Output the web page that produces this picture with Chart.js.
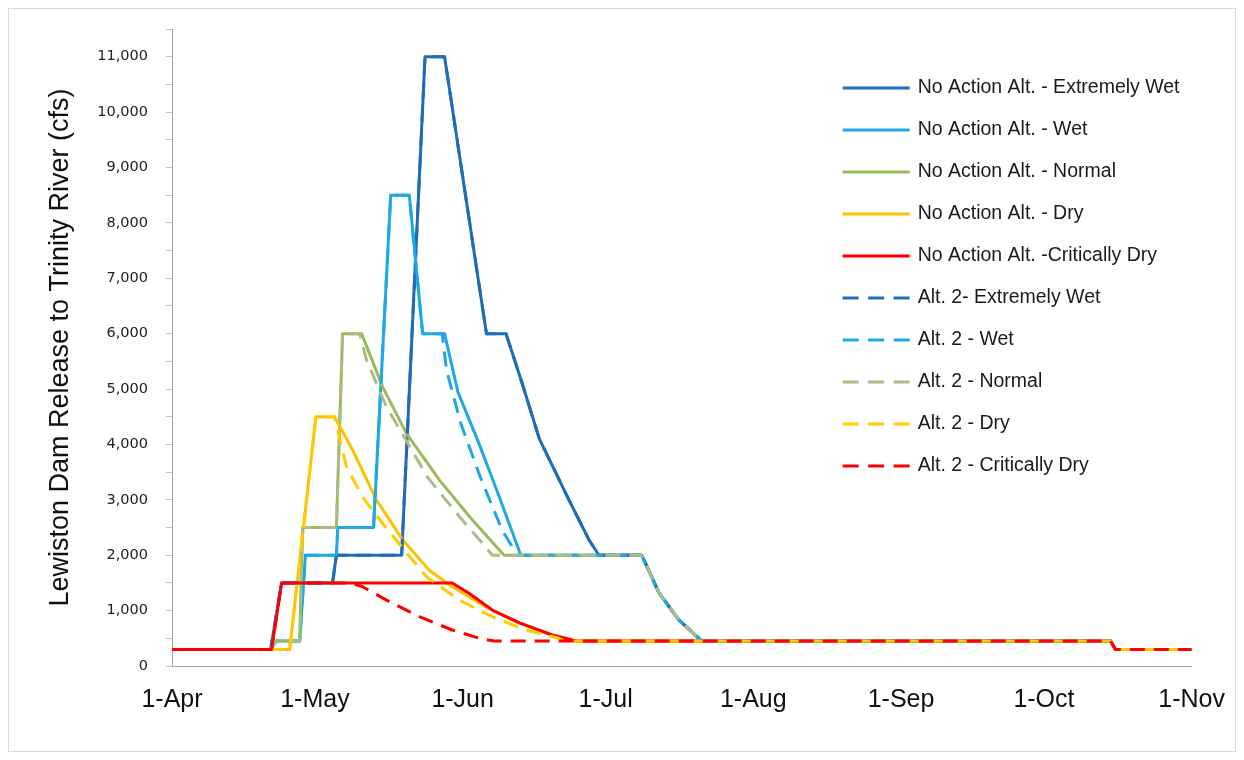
<!DOCTYPE html>
<html>
<head>
<meta charset="utf-8">
<title>Lewiston Dam Release to Trinity River</title>
<script src="https://cdn.jsdelivr.net/npm/chart.js@4.4.1/dist/chart.umd.min.js"></script>
<style>
  html, body { margin: 0; padding: 0; background: #fff; }
  canvas { display: block; }
</style>
</head>
<body>
<canvas id="flows" width="1244" height="760"></canvas>
<script>
"use strict"
// x = days after 1 April, y = release (cfs)
const monthDays = [0, 30, 61, 91, 122, 153, 183, 214];
const monthLabels = ['1-Apr', '1-May', '1-Jun', '1-Jul', '1-Aug', '1-Sep', '1-Oct', '1-Nov'];
const yTitle = 'Lewiston Dam Release to Trinity River (cfs)';

// No Action Alternative
const naExtWet = [[0,300],[20.7,300],[23,1500],[33.7,1500],[34.5,2000],[48.2,2000],[53.1,11000],[57.2,11000],[66,6000],[70.1,6000],[73.5,5100],[77.1,4100],[83.3,3000],[87.5,2280],[89.6,2000],[98.6,2000],[102.2,1320],[106.4,830],[111.2,450],[197,450],[198,300],[214,300]];
const naWet = [[0,300],[20.5,300],[22,450],[26.8,450],[28,2000],[34.5,2000],[34.8,2500],[42.3,2500],[45.9,8500],[49.8,8500],[52.6,6000],[57.2,6000],[60,4950],[64.5,4000],[68.7,3050],[73.2,2000],[98.6,2000],[102.2,1320],[106.4,830],[111.2,450],[197,450],[198,300],[214,300]];
const naNormal = [[0,300],[20.5,300],[22,450],[26.8,450],[27.4,2500],[34.5,2500],[35.8,6000],[39.8,6000],[44.2,5040],[49.2,4200],[56.1,3360],[63,2640],[69.7,2000],[98.6,2000],[102.2,1320],[106.4,830],[111.2,450],[197,450],[198,300],[214,300]];
const naDry = [[0,300],[24.7,300],[30.2,4500],[34.1,4500],[37.9,3900],[42.9,3000],[48.4,2280],[54,1730],[58.8,1430],[65.8,1070],[72.9,780],[79.8,560],[84.8,450],[197,450],[198,300],[214,300]];
const naCritDry = [[0,300],[20.9,300],[23,1500],[58.8,1500],[62.4,1310],[67.2,1010],[72.9,780],[79.8,560],[84.8,450],[197,450],[198,300],[214,300]];

// Alternative 2
const alt2ExtWet = [[0,300],[20.7,300],[23,1500],[33.7,1500],[34.5,2000],[48.2,2000],[53.1,11000],[57.2,11000],[66,6000],[70.1,6000],[73.5,5100],[77.1,4100],[83.3,3000],[87.5,2280],[89.6,2000],[98.6,2000],[102.2,1320],[106.4,830],[111.2,450],[197,450],[198,300],[214,300]];
const alt2Wet = [[0,300],[20.5,300],[22,450],[26.8,450],[28,2000],[34.5,2000],[34.8,2500],[42.3,2500],[45.9,8500],[49.8,8500],[52.6,6000],[56.7,6000],[57.6,5350],[60.6,4380],[64.8,3390],[69.3,2450],[72.5,2000],[98.6,2000],[102.2,1320],[106.4,830],[111.2,450],[197,450],[198,300],[214,300]];
const alt2Normal = [[0,300],[20.5,300],[22,450],[26.8,450],[27.4,2500],[34.5,2500],[35.8,6000],[39.4,6000],[40.8,5530],[45,4680],[53.7,3400],[60,2730],[65.8,2150],[67.2,2000],[98.6,2000],[102.2,1320],[106.4,830],[111.2,450],[197,450],[198,300],[214,300]];
const alt2Dry = [[0,300],[24.7,300],[30.2,4500],[34.1,4500],[36.6,3600],[40,3050],[44.8,2510],[48.2,2150],[53.4,1610],[60.3,1190],[67.2,890],[74.3,650],[81.2,500],[82.5,450],[197,450],[198,300],[214,300]];
const alt2CritDry = [[0,300],[20.9,300],[23,1500],[37.3,1500],[40,1430],[45,1190],[51.9,890],[58.8,650],[64.5,500],[67.6,450],[197,450],[198,300],[214,300]];

const seriesNames = ['No Action Alt. - Extremely Wet', 'No Action Alt. - Wet', 'No Action Alt. - Normal', 'No Action Alt. - Dry', 'No Action Alt. -Critically Dry',
  'Alt. 2- Extremely Wet', 'Alt. 2 - Wet', 'Alt. 2 - Normal', 'Alt. 2 - Dry', 'Alt. 2 - Critically Dry'];
const seriesData = [naExtWet, naWet, naNormal, naDry, naCritDry, alt2ExtWet, alt2Wet, alt2Normal, alt2Dry, alt2CritDry];
const seriesColors = ['#1F6DB5', '#1EA8E6', '#9BBB59', '#FFC000', '#FF0000', '#1F6DB5', '#1EA8E6', '#AABD88', '#FFCC00', '#FF0000'];
const dashPattern = [15, 9];

// hvit bakgrunn og grå ramme rundt hele figuren
const frame = {
  id: 'frame',
  beforeDraw(chart) {
    const ctx = chart.ctx;
    ctx.save();
    ctx.fillStyle = '#fff';
    ctx.fillRect(0, 0, chart.width, chart.height);
    ctx.strokeStyle = '#D9D9D9';
    ctx.lineWidth = 1;
    ctx.strokeRect(8.5, 8.5, chart.width - 17, chart.height - 17);
    ctx.restore();
  }
};

// legend inne i plottet, oppe til høyre
const insideLegend = {
  id: 'insideLegend',
  afterDatasetsDraw(chart) {
    const {ctx, chartArea} = chart;
    const x0 = chartArea.right - 349;
    const y0 = chartArea.top + 59;
    ctx.save();
    ctx.font = '19.5px "Liberation Sans", Arial, sans-serif';
    ctx.textBaseline = 'middle';
    chart.data.datasets.forEach((ds, i) => {
      const y = y0 + i * 42;
      ctx.strokeStyle = ds.borderColor;
      ctx.lineWidth = ds.borderWidth;
      ctx.setLineDash(ds.borderDash.length ? [16, 9.5] : []);
      ctx.beginPath();
      ctx.moveTo(x0, y);
      ctx.lineTo(x0 + 67, y);
      ctx.stroke();
      ctx.setLineDash([]);
      ctx.fillStyle = '#1a1a1a';
      ctx.fillText(ds.label, x0 + 75, y);
    });
    ctx.restore();
  }
};

new Chart(document.getElementById('flows'), {
  type: 'line',
  data: {
    datasets: seriesData.map((rows, i) => ({
      label: seriesNames[i],
      data: rows.map(r => ({x: r[0], y: r[1]})),
      borderColor: seriesColors[i],
      borderWidth: 3,
      borderDash: i >= 5 ? dashPattern : [],
      borderJoinStyle: 'round',
      pointRadius: 0,
      tension: 0,
      fill: false,
      order: -i
    }))
  },
  options: {
    responsive: false,
    animation: false,
    layout: { padding: { top: 29, right: 50, bottom: 20, left: 20 } },
    plugins: {
      legend: { display: false },
      tooltip: { enabled: false }
    },
    scales: {
      x: {
        type: 'linear',
        min: 0,
        max: 214,
        afterBuildTicks: scale => { scale.ticks = monthDays.map(v => ({value: v})); },
        afterFit: scale => { scale.height = 74; },
        ticks: {
          autoSkip: false,
          maxRotation: 0,
          padding: 19,
          color: '#111',
          font: { family: '"Liberation Sans", Arial, sans-serif', size: 25 },
          callback: v => monthLabels[monthDays.indexOf(v)]
        },
        grid: { display: false, drawTicks: false },
        border: { display: true, color: '#A6A6A6', width: 1 }
      },
      y: {
        min: 0,
        max: 11500,
        afterFit: scale => { scale.width = 152; },
        ticks: {
          stepSize: 500,
          autoSkip: false,
          padding: 18,
          color: '#222',
          font: { family: '"DejaVu Sans", Verdana, sans-serif', size: 14.5 },
          callback: v => v % 1000 === 0 ? v.toLocaleString('en-US') : ''
        },
        grid: { drawOnChartArea: false, drawTicks: true, tickLength: 6, color: '#BFBFBF' },
        border: { display: true, color: '#A6A6A6', width: 1 },
        title: {
          display: true,
          text: yTitle,
          color: '#111',
          font: { family: '"Liberation Sans", Arial, sans-serif', size: 27 },
          padding: { top: 24, bottom: 0 }
        }
      }
    }
  },
  plugins: [frame, insideLegend]
});
</script>
</body>
</html>
